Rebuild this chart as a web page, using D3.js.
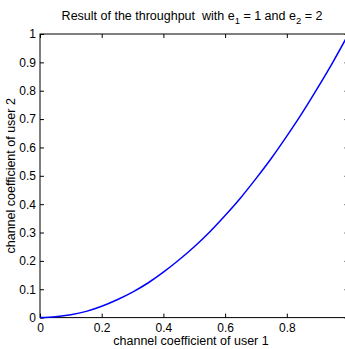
<!DOCTYPE html>
<html>
<head>
<meta charset="utf-8">
<script src="https://cdn.jsdelivr.net/npm/d3@7"></script>
<style>
  body { margin: 0; background: #fff; overflow: hidden; }
  svg { display: block; font-family: "Liberation Sans", Arial, sans-serif; }
  text { white-space: pre; }
</style>
</head>
<body>
<div id="chart_area"></div>
<script>
// values
var user1 = [0, 0.05, 0.1, 0.15, 0.2, 0.25, 0.3, 0.35, 0.4, 0.45, 0.5,
             0.55, 0.6, 0.65, 0.7, 0.75, 0.8, 0.85, 0.9, 0.95, 1.0];
var user2 = [0, 0.003, 0.01, 0.022, 0.04, 0.063, 0.09, 0.122, 0.16, 0.203, 0.25,
             0.302, 0.36, 0.422, 0.49, 0.562, 0.64, 0.722, 0.81, 0.902, 1.0];
var xTicks = [0, 0.2, 0.4, 0.6, 0.8];
var yTicks = [0, 0.1, 0.2, 0.3, 0.4, 0.5, 0.6, 0.7, 0.8, 0.9, 1];

var margin = { top: 34, left: 40 },
    width = 308.5,
    height = 283.6;

var svg = d3.select("#chart_area")
    .append("svg")
    .attr("width", 345)
    .attr("height", 349);

var g = svg.append("g")
    .attr("transform", "translate(" + margin.left + "," + margin.top + ")");

var x = d3.scaleLinear().domain([0, 1]).range([0, width]);
var y = d3.scaleLinear().domain([0, 1]).range([height, 0]);

// bottom axis, ticks inside
var xa = g.append("g")
    .attr("transform", "translate(0," + height + ")")
    .call(d3.axisBottom(x).tickValues(xTicks).tickFormat(d3.format("")).tickSizeInner(-4).tickSizeOuter(0).tickPadding(5.5));
// top axis ticks
var xt = g.append("g")
    .call(d3.axisTop(x).tickValues(xTicks).tickFormat("").tickSizeInner(-4).tickSizeOuter(0));

// left axis
var ya = g.append("g")
    .call(d3.axisLeft(y).tickValues(yTicks).tickFormat(d3.format("")).tickSizeInner(-4).tickSizeOuter(0).tickPadding(4));
// right axis ticks
var yr = g.append("g")
    .attr("transform", "translate(" + width + ",0)")
    .call(d3.axisRight(y).tickValues(yTicks).tickFormat("").tickSizeInner(-4).tickSizeOuter(0));

[xa, xt, ya, yr].forEach(function (a) {
    a.selectAll("path.domain").remove();
    a.selectAll("line").attr("stroke", "#000");
    a.selectAll("text")
        .attr("fill", "#000")
        .style("font-size", "12px")
        .style("font-family", "Liberation Sans, Arial, sans-serif");
});

// axes box
g.append("rect")
    .attr("x", 0).attr("y", 0)
    .attr("width", width).attr("height", height)
    .attr("fill", "none")
    .attr("stroke", "#000")
    .attr("stroke-width", 1);

// the curve
var pts = user1.map(function (v, i) { return [v, user2[i]]; });
g.append("path")
    .datum(pts)
    .attr("fill", "none")
    .attr("stroke", "#0000ff")
    .attr("stroke-width", 1.5)
    .attr("d", d3.line()
        .x(function (d) { return x(d[0]); })
        .y(function (d) { return y(d[1]); })
        .curve(d3.curveMonotoneX));

// title
var title = svg.append("text")
    .attr("x", 192)
    .attr("y", 20)
    .attr("text-anchor", "middle")
    .style("font-size", "12.5px")
    .attr("fill", "#000");
title.append("tspan").text("Result of the throughput  with e");
title.append("tspan").attr("dy", 4).style("font-size", "9.5px").text("1");
title.append("tspan").attr("dy", -4).text(" = 1 and e");
title.append("tspan").attr("dy", 4).style("font-size", "9.5px").text("2");
title.append("tspan").attr("dy", -4).text(" = 2");

// axis labels
svg.append("text")
    .attr("x", 191)
    .attr("y", 345)
    .attr("text-anchor", "middle")
    .style("font-size", "12.5px")
    .attr("fill", "#000")
    .text("channel coefficient of user 1");

svg.append("text")
    .attr("transform", "translate(15," + (margin.top + height / 2) + ")rotate(-90)")
    .attr("text-anchor", "middle")
    .style("font-size", "12.5px")
    .attr("fill", "#000")
    .text("channel coefficient of user 2");
</script>
</body>
</html>
